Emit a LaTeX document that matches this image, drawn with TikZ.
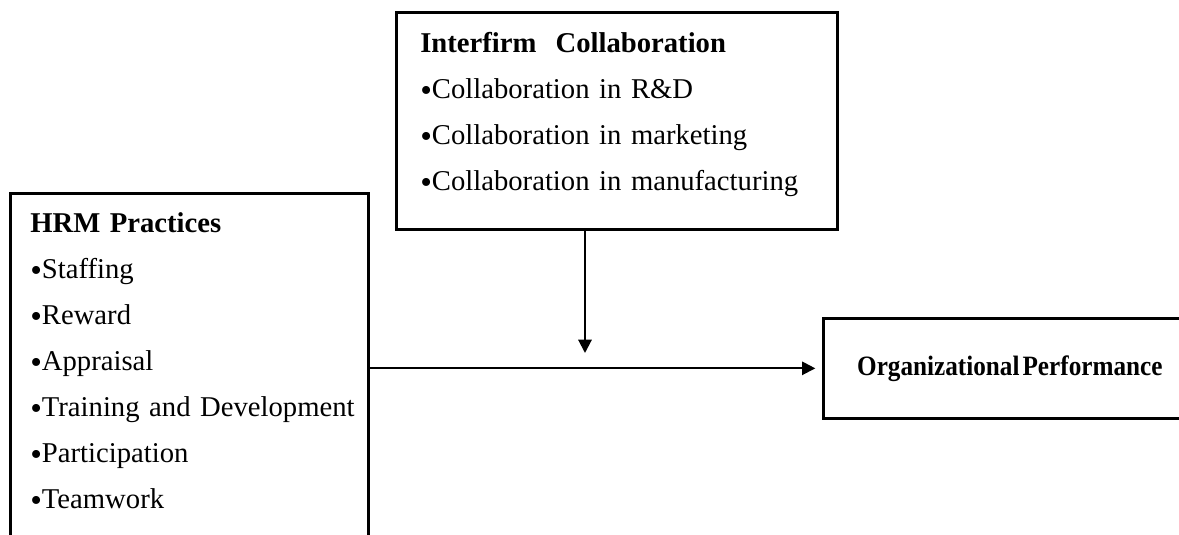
\documentclass[tikz,border=0pt]{standalone}
\usepackage{fontspec}
\setmainfont{Liberation Serif}
\usetikzlibrary{arrows.meta}
\newcommand{\bul}{\raisebox{-2.5pt}{\fontsize{25}{25}\selectfont\textbullet}}  % list bullet

\begin{document}
\begin{tikzpicture}[x=0.75pt, y=-0.75pt,
    frame/.style={draw, line width=2pt, inner sep=0pt, anchor=north west},
    listtext/.style={inner sep=0pt, anchor=north west, align=left,
        font=\fontsize{21.5}{34.5}\selectfont},
    link/.style={line width=1.5pt, -{Triangle[length=10pt, width=10pt]}}]
    \path[use as bounding box, clip] (0,0) rectangle (1179,535);

    \node[frame, minimum width=268.5pt, minimum height=276pt] (hrm) at (9,192) {};
    \node[listtext, text width=330pt] (hrmlist) at (30,212) {%
        \textbf{HRM Practices}\\
        \bul Staffing\\
        \bul Reward\\
        \bul Appraisal\\
        \bul Training and Development\\
        \bul Participation\\
        \bul Teamwork};

    \node[frame, minimum width=330.75pt, minimum height=162.75pt] (collab) at (395,11) {};
    \node[listtext, text width=320pt] (collablist) at (420,32) {%
        \textbf{Interfirm\ \ Collaboration}\\
        \bul Collaboration in R\&D\\
        \bul Collaboration in marketing\\
        \bul Collaboration in manufacturing};

    \node[frame, minimum width=279.75pt, minimum height=75pt,
        font=\fontsize{21}{24}\selectfont\bfseries] (perf) at (822,317)
        {\scalebox{0.9}[1]{Organizational\hspace{0.12em}Performance}};

    \coordinate (drop) at (585,353);
    \draw[link] (collab.south -| drop) -- (drop);
    \draw[link, shorten >=5pt] (hrm.east |- perf.west) -- (perf.west);
\end{tikzpicture}
\end{document}
